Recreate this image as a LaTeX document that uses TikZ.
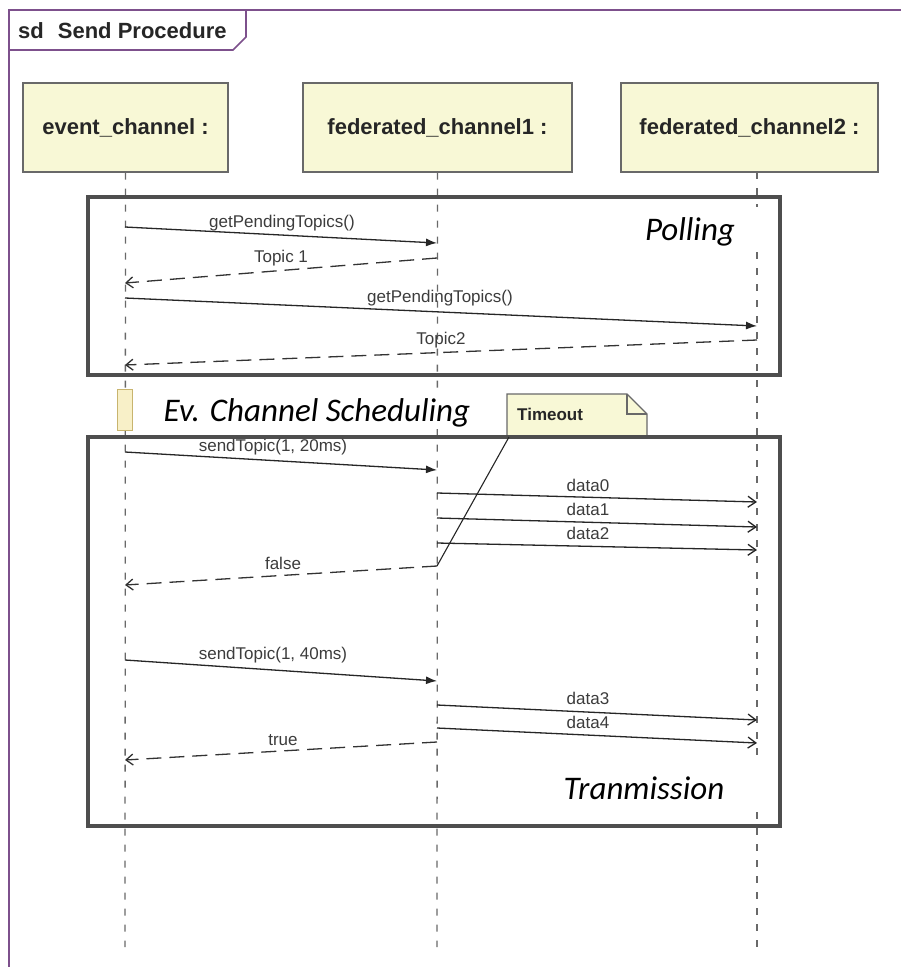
\documentclass[tikz,border=0pt]{standalone}
\usepackage{fontspec}
\setmainfont{Liberation Sans}
\newfontfamily\calib{Carlito}
\usetikzlibrary{arrows.meta}
\definecolor{framepurple}{RGB}{125,80,140}
\definecolor{headfill}{RGB}{248,248,214}
\definecolor{boxgray}{RGB}{78,78,78}
\definecolor{lifegray}{RGB}{105,105,105}
\definecolor{actfill}{RGB}{248,240,200}
\definecolor{actdraw}{RGB}{200,180,110}
\definecolor{labelgray}{RGB}{60,60,60}
\begin{document}
\begin{tikzpicture}[x=1pt,y=-1pt,
  head/.style={draw=lifegray, line width=1.4pt, fill=headfill, minimum height=89pt, inner sep=0pt,
    font=\fontsize{22}{24}\selectfont\bfseries, text=black!85},
  lifeline/.style={draw=lifegray, line width=1.3pt, dash pattern=on 7pt off 9pt},
  region/.style={draw=boxgray, line width=4.5pt},
  callmsg/.style={draw=black!85, line width=1.3pt, -{Latex[length=11pt,width=8pt]}},
  retmsg/.style={draw=black!80, line width=1.3pt, dash pattern=on 15pt off 8pt, -{Straight Barb[length=7pt,width=11pt]}},
  asyncmsg/.style={draw=black!85, line width=1.3pt, -{Straight Barb[length=8pt,width=11pt]}},
  msglabel/.style={font=\fontsize{17}{19}\selectfont, text=labelgray, inner sep=0pt},
  bigital/.style={font=\calib\itshape\fontsize{33}{36}\selectfont, text=black, inner sep=0pt},
  notebox/.style={draw=lifegray, line width=1.3pt, fill=headfill},
]
\useasboundingbox (0,0) rectangle (901,967);
\fill[white] (0,0) rectangle (901,967);

% frame
\draw[framepurple, line width=1.6pt] (9,967) -- (9,10) -- (901,10);
\draw[framepurple, line width=1.6pt] (9,50) -- (233,50) -- (246,37) -- (246,10);
\node[anchor=base west, inner sep=0pt, font=\fontsize{22}{24}\selectfont\bfseries, text=black!85] (title) at (18,38) {sd\hspace{14pt}Send Procedure};

% lifeline heads
\node[head, minimum width=205pt] (ec) at (125.5,127.5) {event\_channel :};
\node[head, minimum width=269pt] (fc1) at (437.5,127.5) {federated\_channel1 :};
\node[head, minimum width=257pt] (fc2) at (749.5,127.5) {federated\_channel2 :};

% lifelines
\coordinate (ecend) at (125,947);
\coordinate (fc1end) at (437,947);
\coordinate (fc2end) at (757,947);
\draw[lifeline] (ec.south) -- (ecend);
\draw[lifeline] (fc1.south) -- (fc1end);
\draw[lifeline] (757,172) -- (fc2end);

% Polling region
\draw[region] (88,197) rectangle (780,375);
\fill[white] (640,207) rectangle (762,252);
\node[bigital] (polling) at (690,232) {Polling};

\coordinate (a1) at (125,227); \coordinate (b1) at (437,243);
\draw[callmsg] (a1) -- (b1);
\node[msglabel] (l1) at (282,223) {getPendingTopics()};
\coordinate (a2) at (437,258); \coordinate (b2) at (125,283);
\draw[retmsg] (a2) -- (b2);
\node[msglabel] (l2) at (281,258) {Topic 1};
\coordinate (a3) at (125,298); \coordinate (b3) at (757,326);
\draw[callmsg] (a3) -- (b3);
\node[msglabel] (l3) at (440,298) {getPendingTopics()};
\coordinate (a4) at (757,340); \coordinate (b4) at (125,365);
\draw[retmsg] (a4) -- (b4);
\node[msglabel] (l4) at (441,340) {Topic2};

% scheduling
\fill[white] (150,391) rectangle (482,429);
\node[draw=actdraw, line width=1pt, fill=actfill, minimum width=15pt, minimum height=41pt, inner sep=0pt] (act) at (124.5,409.5) {};
\node[bigital] (sched) at (317,413) {Ev. Channel Scheduling};

% Timeout note
\draw[notebox] (507,394) -- (627,394) -- (647,414) -- (647,437) -- (507,437) -- cycle;
\draw[draw=lifegray, line width=1.3pt] (627,394) -- (627,414) -- (647,414);
\node[anchor=base west, inner sep=0pt, font=\fontsize{17}{19}\selectfont\bfseries, text=black!85] (timeout) at (517,420) {Timeout};

% Transmission region
\draw[region] (88,437) rectangle (780,826);
\fill[white] (555,763) rectangle (762,809);
\node[bigital] (trans) at (644,788) {Tranmission};

\coordinate (c1) at (125,452); \coordinate (d1) at (437,470);
\draw[callmsg] (c1) -- (d1);
\node[msglabel] (k1) at (273,447) {sendTopic(1, 20ms)};
\coordinate (c2) at (437,493); \coordinate (d2) at (757,502);
\draw[asyncmsg] (c2) -- (d2);
\node[msglabel] (k2) at (588,485) {data0};
\coordinate (c3) at (437,518); \coordinate (d3) at (757,527);
\draw[asyncmsg] (c3) -- (d3);
\node[msglabel] (k3) at (588,509) {data1};
\coordinate (c4) at (437,543); \coordinate (d4) at (757,550);
\draw[asyncmsg] (c4) -- (d4);
\node[msglabel] (k4) at (588,533) {data2};
\coordinate (c5) at (437,566); \coordinate (d5) at (125,585);
\draw[retmsg] (c5) -- (d5);
\node[msglabel] (k5) at (283,563) {false};
\coordinate (notefoot) at (509,437);
\draw[draw=black!85, line width=1.1pt] (notefoot) -- (c5);

\coordinate (c6) at (125,660); \coordinate (d6) at (437,681);
\draw[callmsg] (c6) -- (d6);
\node[msglabel] (k6) at (273,655) {sendTopic(1, 40ms)};
\coordinate (c7) at (437,705); \coordinate (d7) at (757,720);
\draw[asyncmsg] (c7) -- (d7);
\node[msglabel] (k7) at (588,698) {data3};
\coordinate (c8) at (437,728); \coordinate (d8) at (757,743);
\draw[asyncmsg] (c8) -- (d8);
\node[msglabel] (k8) at (588,722) {data4};
\coordinate (c9) at (437,742); \coordinate (d9) at (125,760);
\draw[retmsg] (c9) -- (d9);
\node[msglabel] (k9) at (283,740) {true};
\end{tikzpicture}
\end{document}
